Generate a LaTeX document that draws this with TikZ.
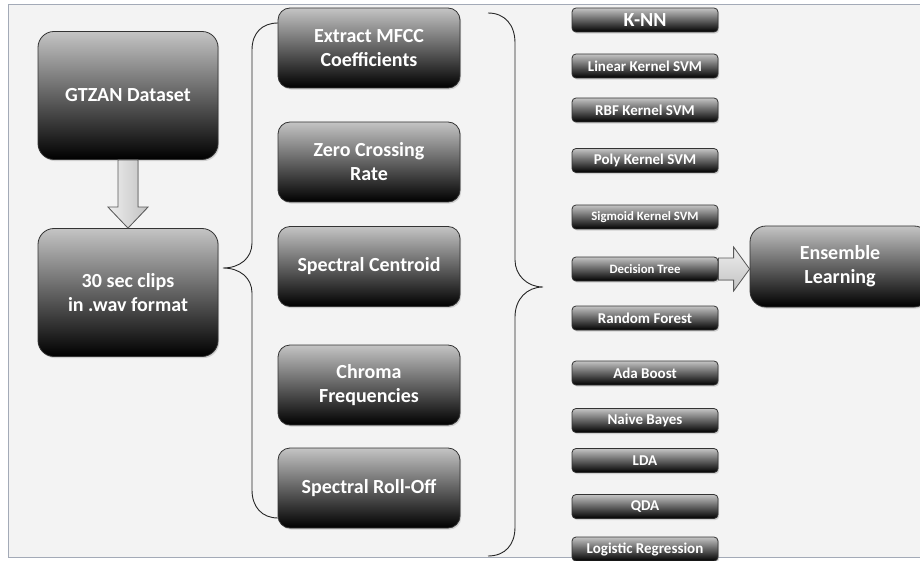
\documentclass[tikz,border=0pt]{standalone}
\usepackage{fontspec}
\setmainfont{Carlito}
\usetikzlibrary{calc,shadows}
\definecolor{bgfill}{HTML}{F3F3F3}
\definecolor{frameline}{HTML}{A3AAB7}
\definecolor{boxtop}{HTML}{C4C4C4}
\definecolor{arrowlight}{HTML}{EEEEEE}
\definecolor{arrowdark}{HTML}{C2C2C2}
\tikzset{
  gbox/.style={draw=black!80, line width=0.8pt, top color=boxtop, bottom color=black,
    text=white, align=center, inner sep=0pt,
    drop shadow={opacity=0.3, shadow xshift=1.2pt, shadow yshift=-1.6pt}},
  bigbox/.style={gbox, minimum width=180pt, minimum height=128pt, rounded corners=16pt,
    font=\fontsize{20}{24}\selectfont\bfseries},
  featbox/.style={gbox, minimum width=182pt, minimum height=80pt, rounded corners=12pt,
    font=\fontsize{20}{24}\selectfont\bfseries},
  clsbox/.style={gbox, minimum width=146pt, minimum height=24pt, rounded corners=4pt,
    font=\fontsize{15}{18}\selectfont\bfseries},
  clssmall/.style={clsbox, font=\fontsize{12.8}{15}\selectfont\bfseries},
  clsbig/.style={clsbox, font=\fontsize{20}{22}\selectfont\bfseries},
  fatV/.style={draw=black!65, line width=0.8pt, left color=arrowlight, right color=arrowdark},
  fatH/.style={draw=black!65, line width=0.8pt, top color=arrowlight, bottom color=arrowdark},
  bracestyle/.style={draw=black!85, line width=0.9pt},
}
\begin{document}
\begin{tikzpicture}[x=1pt,y=-1pt]
\useasboundingbox (0,0) rectangle (920,561);
\fill[white] (0,0) rectangle (920,561);
\filldraw[fill=bgfill, draw=frameline, line width=1pt] (8,5) rectangle (935,557);

% braces
\draw[bracestyle] (278,23) .. controls (262,23) and (252,33) .. (252,50) -- (252,243)
  .. controls (252,258) and (240,268) .. (223,268)
  .. controls (240,268) and (252,278) .. (252,293) -- (252,490)
  .. controls (252,507) and (262,518) .. (278,518);
\draw[bracestyle] (488,13) .. controls (505,13) and (515,25) .. (515,43) -- (515,260)
  .. controls (515,275) and (527,287) .. (543,287)
  .. controls (527,287) and (515,299) .. (515,317) -- (515,527)
  .. controls (515,545) and (505,556) .. (488,556);

% left column
\node[bigbox] (gtzan) at (128,95.5) {GTZAN Dataset};
\node[bigbox] (clips) at (128,292.5) {30 sec clips\\in .wav format};

% features
\node[featbox] (mfcc) at (369,48) {Extract MFCC\\Coefficients};
\node[featbox] (zcr) at (369,162) {Zero Crossing\\Rate};
\node[featbox] (cent) at (369,266.5) {Spectral Centroid};
\node[featbox] (chroma) at (369,385) {Chroma\\Frequencies};
\node[featbox] (roll) at (369,488) {Spectral Roll-Off};

% classifiers
\node[clsbig] (knn) at (645,20) {K-NN};
\node[clsbox] (lin) at (645,66) {Linear Kernel SVM};
\node[clsbox] (rbf) at (645,110) {RBF Kernel SVM};
\node[clsbox] (poly) at (645,160.5) {Poly Kernel SVM};
\node[clssmall] (sig) at (645,217) {Sigmoid Kernel SVM};
\node[clssmall] (dt) at (645,269) {Decision Tree};
\node[clsbox] (rf) at (645,318) {Random Forest};
\node[clsbox] (ada) at (645,373) {Ada Boost};
\node[clsbox] (nb) at (645,420.5) {Naive Bayes};
\node[clsbox] (lda) at (645,460.5) {LDA};
\node[clsbox] (qda) at (645,506.5) {QDA};
\node[clsbox] (lr) at (645,549) {Logistic Regression};

% ensemble
\node[bigbox, minimum height=81pt] (ens) at (840,266.5) {Ensemble\\Learning};

% fat arrow down
\coordinate (a1) at (gtzan.south);
\coordinate (a2) at (clips.north);
\filldraw[fatV] ($(a1)+(-10,0)$) -- ($(a2)+(-10,-21)$) -- ($(a2)+(-20,-21)$) -- (a2)
  -- ($(a2)+(20,-21)$) -- ($(a2)+(10,-21)$) -- ($(a1)+(10,0)$) -- cycle;

% fat arrow right
\coordinate (h1) at (dt.east);
\coordinate (h2) at (ens.west |- dt.east);
\filldraw[fatH] ($(h1)+(0,-11)$) -- ($(h2)+(-16,-11)$) -- ($(h2)+(-16,-22)$) -- (h2)
  -- ($(h2)+(-16,22)$) -- ($(h2)+(-16,11)$) -- ($(h1)+(0,11)$) -- cycle;
\end{tikzpicture}
\end{document}
